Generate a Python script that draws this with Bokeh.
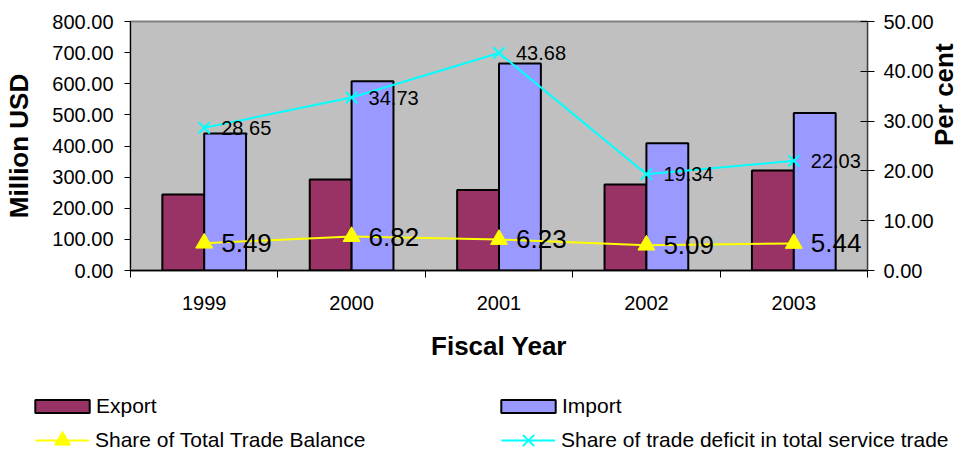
import math
from bokeh.plotting import figure
from bokeh.models import (Range1d, LinearAxis, FixedTicker, NumeralTickFormatter,
                          ColumnDataSource, Legend, LegendItem)
from bokeh.transform import dodge
from bokeh.core.properties import value
from bokeh.embed import file_html
from bokeh.resources import INLINE

years = [1999, 2000, 2001, 2002, 2003]
export = [244, 292, 259, 276, 321]
imports = [440, 608, 665, 409, 506]
trade_balance = [5.49, 6.82, 6.23, 5.09, 5.44]
deficit_share = [28.65, 34.73, 43.68, 19.34, 22.03]
left_ticks = [0, 100, 200, 300, 400, 500, 600, 700, 800]
right_ticks = [0, 10, 20, 30, 40, 50]
boundaries = [1998.5, 1999.5, 2000.5, 2001.5, 2002.5, 2003.5]

FONT = "Liberation Sans"
EXPORT_C = "#993366"
IMPORT_C = "#9999FF"
TB_C = "#FFFF00"
DS_C = "#00FFFF"

src = ColumnDataSource(dict(
    year=years, export=export, imports=imports,
    tb=trade_balance, ds=deficit_share,
    tb_lbl=[f"{v:.2f}" for v in trade_balance],
    ds_lbl=[f"{v:.2f}" for v in deficit_share],
))

p = figure(width=976, height=380, output_backend="svg", toolbar_location=None,
           x_range=Range1d(1998.5, 2003.5), y_range=Range1d(0, 800),
           min_border_left=130, min_border_right=106, min_border_top=21,
           min_border_bottom=110)
p.extra_y_ranges = {"pct": Range1d(0, 50)}
p.border_fill_color = "white"
p.background_fill_color = "#C0C0C0"
p.outline_line_color = "#808080"
p.outline_line_width = 2
p.grid.visible = False

bw = 0.284
p.vbar(x=dodge("year", -0.142), top="export", width=bw, source=src,
       fill_color=EXPORT_C, line_color="black", line_width=2)
p.vbar(x=dodge("year", 0.142), top="imports", width=bw, source=src,
       fill_color=IMPORT_C, line_color="black", line_width=2)

p.line("year", "tb", source=src, y_range_name="pct", line_color=TB_C, line_width=2)
p.scatter("year", "tb", source=src, y_range_name="pct", marker="triangle", size=17,
          fill_color=TB_C, line_color=TB_C)
p.line("year", "ds", source=src, y_range_name="pct", line_color=DS_C, line_width=2)
p.scatter("year", "ds", source=src, y_range_name="pct", marker="x", size=16,
          line_color=DS_C, line_width=2)

p.text("year", "ds", text="ds_lbl", source=src, y_range_name="pct", x_offset=17,
       text_baseline="middle", text_font=value(FONT), text_font_size="20px", text_color="black")
p.text("year", "tb", text="tb_lbl", source=src, y_range_name="pct", x_offset=17,
       text_baseline="middle", text_font=value(FONT), text_font_size="26px", text_color="black")

# x axis
xa = p.xaxis[0]
xa.ticker = FixedTicker(ticks=years, minor_ticks=boundaries)
xa.major_tick_out = 0
xa.major_tick_in = 0
xa.minor_tick_out = 7
xa.minor_tick_in = 0
xa.minor_tick_line_color = "black"
xa.axis_line_color = "black"
xa.axis_line_width = 1.5
xa.major_label_standoff = 18
xa.major_label_text_font = FONT
xa.major_label_text_font_size = "20px"
xa.major_label_text_color = "black"
xa.axis_label = "Fiscal Year"
xa.axis_label_text_font = FONT
xa.axis_label_text_font_size = "26px"
xa.axis_label_text_font_style = "bold"
xa.axis_label_text_color = "black"
xa.axis_label_standoff = 18

ya = p.yaxis[0]
ya.ticker = FixedTicker(ticks=left_ticks)
ya.formatter = NumeralTickFormatter(format="0.00")
ya.major_tick_out = 6
ya.major_tick_in = 0
ya.minor_tick_line_color = None
ya.axis_line_color = "black"
ya.major_label_standoff = 11
ya.major_label_text_font = FONT
ya.major_label_text_font_size = "20px"
ya.major_label_text_color = "black"
ya.axis_label = "Million USD"
ya.axis_label_text_font = FONT
ya.axis_label_text_font_size = "26px"
ya.axis_label_text_font_style = "bold"
ya.axis_label_text_color = "black"
ya.axis_label_standoff = 15

ra = LinearAxis(y_range_name="pct", ticker=FixedTicker(ticks=right_ticks),
                formatter=NumeralTickFormatter(format="0.00"))
ra.major_tick_out = 7
ra.major_tick_in = 7
ra.minor_tick_line_color = None
ra.axis_line_color = "#404040"
ra.major_label_standoff = 9
ra.major_label_text_font = FONT
ra.major_label_text_font_size = "20px"
ra.major_label_text_color = "black"
ra.axis_label = "Per cent"
ra.axis_label_orientation = math.pi / 2
ra.axis_label_text_font = FONT
ra.axis_label_text_font_size = "26px"
ra.axis_label_text_font_style = "bold"
ra.axis_label_text_color = "black"
ra.axis_label_standoff = 7
p.add_layout(ra, "right")

# legend strip below the chart (separate root; its renderers are hidden)
lg = figure(width=976, height=70, output_backend="svg", toolbar_location=None,
            x_axis_type=None, y_axis_type=None,
            x_range=Range1d(0, 1), y_range=Range1d(0, 1),
            min_border_left=0, min_border_right=0, min_border_top=0, min_border_bottom=0)
lg.outline_line_color = None
lg.grid.visible = False
lg.background_fill_color = "white"
lg.border_fill_color = "white"

e_r = lg.vbar(x="year", top="export", width=bw, source=src,
              fill_color=EXPORT_C, line_color="black", line_width=2, visible=False)
i_r = lg.vbar(x="year", top="imports", width=bw, source=src,
              fill_color=IMPORT_C, line_color="black", line_width=2, visible=False)
tbl = lg.line("year", "tb", source=src, line_color=TB_C, line_width=2, visible=False)
tbm = lg.scatter("year", "tb", source=src, marker="triangle", size=17,
                 fill_color=TB_C, line_color=TB_C, visible=False)
dsl = lg.line("year", "ds", source=src, line_color=DS_C, line_width=2, visible=False)
dsm = lg.scatter("year", "ds", source=src, marker="x", size=16,
                 line_color=DS_C, line_width=2, visible=False)


def style(leg):
    leg.padding = 0
    leg.margin = 0
    leg.border_line_color = None
    leg.background_fill_alpha = 0
    leg.label_text_font = FONT
    leg.label_text_font_size = "21px"
    leg.label_text_color = "black"


bars_legend = Legend(items=[
    LegendItem(label="Export", renderers=[e_r]),
    LegendItem(label="Import", renderers=[i_r]),
], location=(28, 32), orientation="horizontal")
bars_legend.glyph_width = 68
bars_legend.glyph_height = 16
bars_legend.label_standoff = 0
bars_legend.label_width = 388
bars_legend.spacing = 10
style(bars_legend)
lg.add_layout(bars_legend, "center")

lines_legend = Legend(items=[
    LegendItem(label="Share of Total Trade Balance", renderers=[tbl, tbm]),
    LegendItem(label="Share of trade deficit in total service trade", renderers=[dsl, dsm]),
], location=(35, -10), orientation="horizontal")
lines_legend.glyph_width = 54
lines_legend.glyph_height = 40
lines_legend.label_standoff = 6
lines_legend.label_width = 396
lines_legend.spacing = 10
style(lines_legend)
lg.add_layout(lines_legend, "center")

open("out.html", "w").write(file_html([p, lg], INLINE))
